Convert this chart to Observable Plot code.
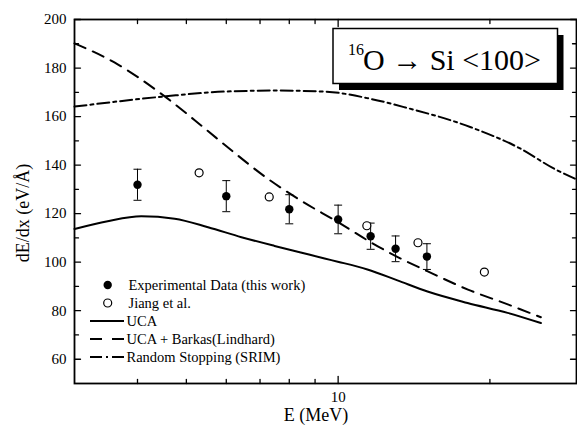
<!DOCTYPE html>
<html><head><meta charset="utf-8">
<script src="https://cdn.jsdelivr.net/npm/d3@7"></script>
<script src="https://cdn.jsdelivr.net/npm/@observablehq/plot@0.6"></script>
<style>html,body{margin:0;padding:0;background:#fff;overflow:hidden}</style>
</head><body><div id="chart"></div>
<script>
// Experimental data (this work)
const expE = [4.0, 6.0, 8.0, 10.0, 11.6, 13.0, 15.0];
const expV = [131.9, 127.2, 121.8, 117.6, 110.7, 105.5, 102.3];
const expErr = [6.4, 6.4, 6.0, 5.9, 5.4, 5.3, 5.3];
// Jiang et al.
const jiangE = [5.3, 7.3, 11.4, 14.4, 19.5];
const jiangV = [136.8, 126.9, 115.0, 108.0, 95.9];
// UCA
const ucaE = [3.0, 3.49, 4.07, 4.74, 5.52, 6.43, 7.48, 8.43, 9.40, 10.03, 11.43, 13.11, 15.04, 18.06, 21.68, 25.24];
const ucaV = [113.7, 116.9, 118.9, 117.9, 114.4, 110.3, 106.7, 104.0, 101.5, 100.1, 97.0, 92.5, 87.9, 83.2, 79.1, 74.9];
// UCA + Barkas (Lindhard)
const barkasE = [3.0, 3.60, 4.53, 5.41, 6.15, 7.24, 8.43, 10.03, 11.54, 13.07, 15.06, 18.09, 21.7, 25.24];
const barkasV = [190.2, 182.3, 168.3, 155.5, 146.0, 134.5, 125.4, 116.3, 108.5, 102.3, 96.2, 88.7, 82.6, 77.3];
// Random stopping (SRIM)
const srimE = [3.0, 4.53, 5.95, 7.48, 9.40, 11.6, 13.51, 18.33, 23.03, 26.82, 29.85];
const srimV = [164.1, 168.3, 170.3, 170.7, 170.3, 167.3, 163.9, 155.6, 146.7, 138.5, 133.9];

// ticks
const xMinorTicks = [4, 5, 6, 7, 8, 9, 20];
const xMajorTicks = [10];
const xTickLabels = [10];
const yMajorTicks = [60, 80, 100, 120, 140, 160, 180, 200];
const yMinorTicks = [70, 90, 110, 130, 150, 170, 190];

const legendLabels = ["Experimental Data (this work)", "Jiang et al.", "UCA", "UCA + Barkas(Lindhard)", "Random Stopping (SRIM)"];
const xLabel = "E (MeV)";
const yLabel = "dE/dx (eV/Å)";

const serif = "'Liberation Serif', 'Times New Roman', serif";
const exp = expE.map((E, i) => ({E, v: expV[i], err: expErr[i]}));
const jiang = jiangE.map((E, i) => ({E, v: jiangV[i]}));
const uca = ucaE.map((E, i) => ({E, v: ucaV[i]}));
const barkas = barkasE.map((E, i) => ({E, v: barkasV[i]}));
const srim = srimE.map((E, i) => ({E, v: srimV[i]}));

const cap = {draw(ctx) { ctx.moveTo(-4, 0); ctx.lineTo(4, 0); }};
const tickShape = {draw(ctx, l) { ctx.moveTo(0, 0); ctx.lineTo(0, -l); }};
const tk = {anchor: "start", shape: tickShape, stroke: "#000", strokeWidth: 1.3};

const chart = Plot.plot({
  width: 577, height: 430,
  marginLeft: 74, marginRight: 1, marginTop: 19, marginBottom: 47,
  style: {fontFamily: serif, fontSize: "15px", background: "#fff", color: "#000"},
  x: {type: "log", domain: [3, 29.7]},
  y: {domain: [50, 200]},
  marks: [
    Plot.line(uca, {x: "E", y: "v", curve: "monotone-x", stroke: "#000", strokeWidth: 2}),
    Plot.line(barkas, {x: "E", y: "v", curve: "monotone-x", stroke: "#000", strokeWidth: 2, strokeDasharray: "12,8"}),
    Plot.line(srim, {x: "E", y: "v", curve: "monotone-x", stroke: "#000", strokeWidth: 2, strokeDasharray: "12,4,3,4"}),
    Plot.ruleX(exp, {x: "E", y1: d => d.v - d.err, y2: d => d.v + d.err, stroke: "#000", strokeWidth: 1}),
    Plot.dot(exp, {x: "E", y: d => d.v - d.err, symbol: cap, stroke: "#000", strokeWidth: 1}),
    Plot.dot(exp, {x: "E", y: d => d.v + d.err, symbol: cap, stroke: "#000", strokeWidth: 1}),
    Plot.dot(exp, {x: "E", y: "v", r: 4.2, fill: "#000"}),
    Plot.dot(jiang, {x: "E", y: "v", r: 4, fill: "#fff", stroke: "#000", strokeWidth: 1.2}),
    // inward ticks
    Plot.vector(xMinorTicks, {x: d => d, frameAnchor: "bottom", length: 4, rotate: 0, ...tk}),
    Plot.vector(xMinorTicks, {x: d => d, frameAnchor: "top", length: 4, rotate: 180, ...tk}),
    Plot.vector(xMajorTicks, {x: d => d, frameAnchor: "bottom", length: 7, rotate: 0, ...tk}),
    Plot.vector(xMajorTicks, {x: d => d, frameAnchor: "top", length: 7, rotate: 180, ...tk}),
    Plot.vector(yMinorTicks, {y: d => d, frameAnchor: "left", length: 4, rotate: 90, ...tk}),
    Plot.vector(yMinorTicks, {y: d => d, frameAnchor: "right", length: 4, rotate: -90, ...tk}),
    Plot.vector(yMajorTicks, {y: d => d, frameAnchor: "left", length: 6, rotate: 90, ...tk}),
    Plot.vector(yMajorTicks, {y: d => d, frameAnchor: "right", length: 6, rotate: -90, ...tk}),
    // tick labels
    Plot.axisX(xTickLabels, {anchor: "bottom", tickSize: 0, tickPadding: 8, label: null, tickFormat: d => String(d), fontSize: 15, fontFamily: serif}),
    Plot.axisY(yMajorTicks, {anchor: "left", tickSize: 0, tickPadding: 8, label: null, tickFormat: d => String(d), fontSize: 15, fontFamily: serif}),
    Plot.text([xLabel], {text: d => d, frameAnchor: "bottom", dx: -9.5, dy: 37, fontSize: 18, fontFamily: serif}),
    Plot.frame({stroke: "#000", strokeWidth: 1.8})
  ]
});
document.getElementById("chart").appendChild(chart);

const svg = d3.select(chart);
// y axis title
svg.append("text").attr("transform", "translate(25,213) rotate(-90)")
  .attr("text-anchor", "middle").attr("dominant-baseline", "middle")
  .attr("font-size", 18).attr("font-family", serif).attr("fill", "#000").text(yLabel);

// Title box with shadow
const tb = svg.append("g").attr("text-anchor", "start").attr("font-family", serif).attr("fill", "#000");
tb.append("rect").attr("x", 339).attr("y", 35).attr("width", 224.5).attr("height", 55).attr("fill", "#000");
tb.append("rect").attr("x", 333).attr("y", 28.5).attr("width", 224.5).attr("height", 55).attr("fill", "#fff").attr("stroke", "#000").attr("stroke-width", 1.5);
tb.append("text").attr("x", 348).attr("y", 55).attr("font-size", 16).text("16");
tb.append("text").attr("x", 363).attr("y", 70).attr("font-size", 30).text("O \u2192 Si <100>");

// Legend
const lg = svg.append("g").attr("text-anchor", "start").attr("font-family", serif).attr("font-size", 14.5).attr("fill", "#000");
const rows = [285, 303, 321, 339, 357];
lg.append("circle").attr("cx", 107.7).attr("cy", rows[0]).attr("r", 4.2).attr("fill", "#000");
lg.append("circle").attr("cx", 107.7).attr("cy", rows[1]).attr("r", 4).attr("fill", "#fff").attr("stroke", "#000").attr("stroke-width", 1.2);
const dashes = [null, "12,10", "12,4,2,4"];
for (let k = 0; k < 3; k++) {
  const l = lg.append("line").attr("x1", 90).attr("x2", 124).attr("y1", rows[k + 2]).attr("y2", rows[k + 2]).attr("stroke", "#000").attr("stroke-width", 2);
  if (dashes[k]) l.attr("stroke-dasharray", dashes[k]);
}
legendLabels.forEach((t, k) => {
  lg.append("text").attr("x", k < 2 ? 128.5 : 126.5).attr("y", rows[k] + 5).text(t);
});
</script>
</body></html>
